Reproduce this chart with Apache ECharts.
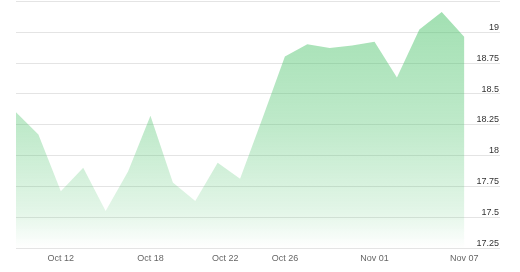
<!DOCTYPE html>
<html>
<head>
<meta charset="utf-8">
<script src="https://cdn.jsdelivr.net/npm/echarts@6/dist/echarts.min.js"></script>
<style>html,body{margin:0;padding:0;background:#fff}#c{width:520px;height:272px}</style>
</head>
<body>
<div id="c"></div>
<script>
// trading days
const dates = ['Oct 10','Oct 11','Oct 12','Oct 13','Oct 16','Oct 17','Oct 18','Oct 19','Oct 20','Oct 23','Oct 24','Oct 25','Oct 26','Oct 27','Oct 30','Oct 31','Nov 01','Nov 02','Nov 03','Nov 06','Nov 07'];
const values = [18.35,18.17,17.71,17.90,17.55,17.87,18.32,17.78,17.63,17.94,17.81,18.30,18.80,18.90,18.87,18.89,18.92,18.63,19.02,19.16,18.96];
// x tick labels and their positions (in point-index units)
const xTickLabels = ['Oct 12','Oct 18','Oct 22','Oct 26','Nov 01','Nov 07'];
const xTickPos = [2, 6, 28/3, 12, 16, 20];
const yTickValues = [17.25,17.5,17.75,18,18.25,18.5,18.75,19];

const chart = echarts.init(document.getElementById('c'), null, {renderer:'canvas'});
const seriesData = values.map((v,i)=>[i,v]);
chart.setOption({
  animation:false,
  grid:{left:16,right:20,top:1,bottom:24,containLabel:false},
  xAxis:{
    type:'value', min:0, max:21.6, interval:1/3,
    axisLine:{show:false}, axisTick:{show:false}, splitLine:{show:false},
    axisLabel:{
      showMaxLabel:false, showMinLabel:true, margin:6,
      color:'#666', fontSize:9, fontFamily:'Liberation Sans, Arial, sans-serif',
      formatter:function(v){
        for(let k=0;k<xTickPos.length;k++){ if(Math.abs(v-xTickPos[k])<0.05) return xTickLabels[k]; }
        return '';
      }
    }
  },
  yAxis:{
    type:'value', position:'right', min:17.25, max:19.25, interval:0.25,
    axisLine:{show:false}, axisTick:{show:false},
    splitLine:{lineStyle:{color:'#e4e4e4',width:1}},
    axisLabel:{
      inside:true, margin:1, align:'right', verticalAlign:'bottom', lineHeight:9,
      color:'#333', fontSize:9, fontFamily:'Liberation Sans, Arial, sans-serif',
      formatter:function(v){
        for(const t of yTickValues){ if(Math.abs(v-t)<1e-6) return String(t); }
        return '';
      }
    }
  },
  series:[{
    type:'line', data:seriesData, symbol:'none', smooth:false,
    lineStyle:{width:0},
    areaStyle:{
      origin:'start',
      color:new echarts.graphic.LinearGradient(0,0,0,1,[
        {offset:0,color:'rgba(76,195,107,0.74)'},
        {offset:0.5,color:'rgba(76,195,107,0.5)'},
        {offset:0.85,color:'rgba(76,195,107,0.22)'},
        {offset:1,color:'rgba(76,195,107,0.0)'}
      ])
    }
  }]
});
</script>
</body>
</html>
